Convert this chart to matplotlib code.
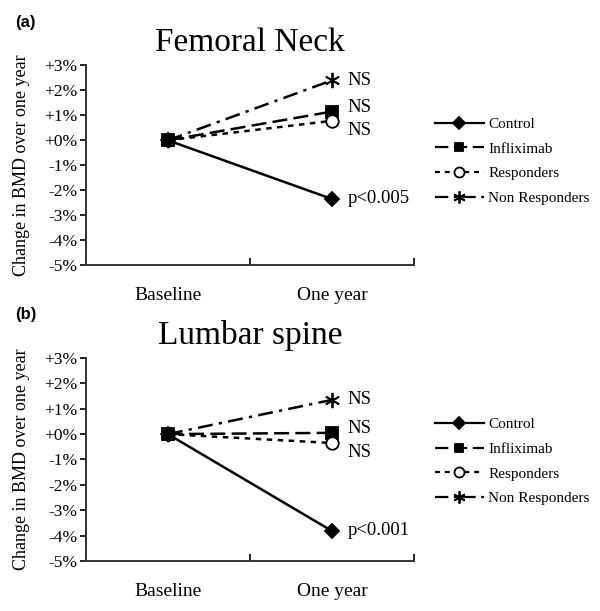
import matplotlib
matplotlib.use("Agg")
import matplotlib.pyplot as plt

categories = ["Baseline", "One year"]
series_names = ["Control", "Infliximab", "Responders", "Non Responders"]

femoral_values = {
    "Control": [0.0, -2.35],
    "Infliximab": [0.0, 1.15],
    "Responders": [0.0, 0.78],
    "Non Responders": [0.0, 2.4],
}
lumbar_values = {
    "Control": [0.0, -3.82],
    "Infliximab": [0.0, 0.05],
    "Responders": [0.0, -0.35],
    "Non Responders": [0.0, 1.35],
}
femoral_notes = {"Control": "p<0.005", "Infliximab": "NS", "Responders": "NS", "Non Responders": "NS"}
lumbar_notes = {"Control": "p<0.001", "Infliximab": "NS", "Responders": "NS", "Non Responders": "NS"}
yticks = [3, 2, 1, 0, -1, -2, -3, -4, -5]
ytick_labels = ["+3%", "+2%", "+1%", "+0%", "-1%", "-2%", "-3%", "-4%", "-5%"]

styles = {
    "Control": dict(ls="-", marker="D", mfc="black", ms=7.5),
    "Infliximab": dict(ls=(0, (6, 2.5)), marker="s", mfc="black", ms=8),
    "Responders": dict(ls=(0, (2.2, 2.2)), marker="o", mfc="white", ms=9),
    "Non Responders": dict(ls=(0, (6, 2.5, 1.3, 2.5)), marker=(6, 2, 0), mfc="black", ms=11),
}
note_offsets = {"Control": 0, "Infliximab": 3, "Responders": -7, "Non Responders": 0}

plt.rcParams["font.family"] = ["Liberation Serif", "DejaVu Serif"]

fig = plt.figure(figsize=(6.0, 6.11), dpi=100)

panels = [
    ("(a)", "Femoral Neck", femoral_values, femoral_notes, [0.143, 0.566, 0.547, 0.327], 0.975, 0.52),
    ("(b)", "Lumbar spine", lumbar_values, lumbar_notes, [0.143, 0.082, 0.547, 0.332], 0.497, 0.49),
]

for plabel, title, values, notes, rect, ylab, legy in panels:
    ax = fig.add_axes(rect)
    xs = [0.5, 1.5]
    order = ["Non Responders", "Infliximab", "Responders", "Control"]
    handles = {}
    for name in order:
        st = styles[name]
        (ln,) = ax.plot(xs, values[name], color="black", lw=1.8, ls=st["ls"],
                        marker=st["marker"], mfc=st["mfc"], mec="black", ms=st["ms"],
                        mew=1.3, clip_on=False)
        handles[name] = ln
        ax.annotate(notes[name], (xs[1], values[name][1]), xytext=(11, note_offsets[name]),
                    textcoords="offset points", ha="left", va="center", fontsize=13.5)
    ax.set_xlim(0, 2)
    ax.set_ylim(-5, 3)
    ax.set_yticks(yticks)
    ax.set_yticklabels(ytick_labels, fontsize=12.5)
    ax.set_xticks([0, 1, 2])
    ax.set_xticklabels([])
    ax.set_xticks(xs, minor=True)
    ax.set_xticklabels(categories, minor=True, fontsize=14)
    ax.tick_params(axis="x", which="minor", length=0, pad=16)
    ax.tick_params(axis="x", which="major", direction="in", length=5, width=1.2)
    ax.tick_params(axis="y", direction="out", length=4, width=1.2, pad=2)
    ax.spines["top"].set_visible(False)
    ax.spines["right"].set_visible(False)
    for s in ["left", "bottom"]:
        ax.spines[s].set_linewidth(1.4)
        ax.spines[s].set_color("#333333")
    ax.set_ylabel("Change in BMD over one year", fontsize=13, labelpad=10)
    ax.set_title(title, fontsize=24, pad=10)
    fig.text(0.025, ylab, plabel, fontsize=12, fontweight="bold",
             family=["Liberation Sans", "DejaVu Sans"], va="top", ha="left")
    leg = ax.legend([handles[n] for n in series_names], series_names,
                    loc="center left", bbox_to_anchor=(1.045, legy), frameon=False,
                    fontsize=11, handlelength=3.2, handletextpad=0.3, labelspacing=0.72,
                    borderaxespad=0)
    for h in leg.legend_handles:
        h.set_markersize(h.get_markersize() * 0.8)
        h.set_linewidth(1.6)

fig.savefig("out.png", dpi=100)
